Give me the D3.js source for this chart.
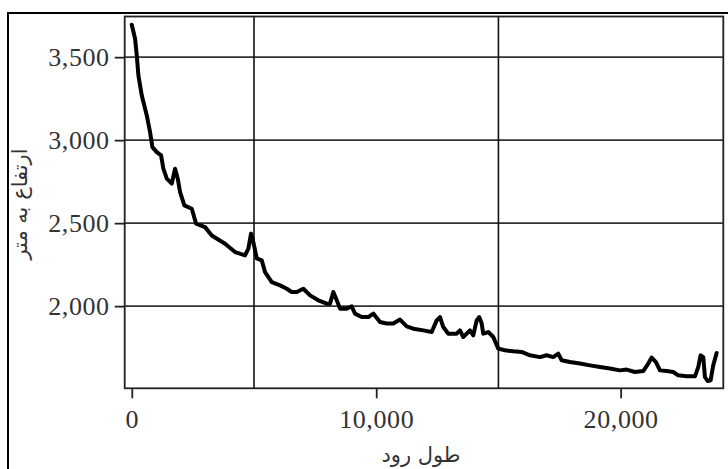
<!DOCTYPE html>
<html>
<head>
<meta charset="utf-8">
<script src="https://cdn.jsdelivr.net/npm/d3@7"></script>
<style>
  html, body { margin: 0; padding: 0; background: #fff; }
  svg { display: block; }
</style>
</head>
<body>
<svg id="chart" width="728" height="469"></svg>
<script>
// River length (m) and elevation (m)
const distance = [0,135,204,270,409,613,748,843,1023,1198,1292,1432,1636,1771,1881,1975,2151,2454,2630,2998,3272,3816,4225,4634,4769,4879,4973,5113,5317,5452,5726,6066,6340,6544,6749,7019,7293,7632,7976,8110,8245,8385,8520,8794,8998,9133,9407,9677,9881,10155,10430,10699,10973,11248,11517,11926,12270,12474,12609,12744,12949,13292,13427,13562,13836,13971,14110,14217,14315,14380,14585,14789,14994,15268,15607,15951,16291,16700,16974,17243,17448,17587,17927,18336,18745,19154,19563,19972,20246,20586,20925,21130,21269,21445,21609,21883,22153,22357,22700,23040,23175,23273,23380,23449,23558,23681,23788,23927];
const elevation = [3695,3611,3510,3390,3269,3149,3048,2958,2928,2908,2828,2768,2738,2828,2768,2687,2607,2587,2497,2476,2426,2376,2326,2306,2346,2437,2386,2288,2276,2205,2145,2125,2105,2085,2085,2105,2065,2035,2015,2015,2085,2035,1985,1985,1999,1955,1934,1934,1955,1904,1895,1895,1919,1878,1864,1854,1844,1914,1934,1874,1834,1834,1854,1814,1854,1824,1914,1934,1895,1834,1844,1814,1744,1734,1728,1724,1704,1693,1704,1693,1714,1674,1663,1654,1643,1633,1624,1613,1618,1603,1609,1654,1690,1663,1613,1609,1603,1583,1577,1577,1633,1704,1693,1573,1549,1553,1643,1718];
const xTicks = [0, 10000, 20000];
const xGrid = [5000, 15000];
const yTicks = [2000, 2500, 3000, 3500];
const xTitle = "طول رود";
const yTitle = "ارتفاع به متر";

const svg = d3.select("#chart");
const L = 124.7, R = 723.3, T = 16.5, B = 388.3;

const x = d3.scaleLinear().domain([-290, 24200]).range([L, R]);
const y = d3.scaleLinear().domain([1505, 3745]).range([B, T]);

svg.append("rect").attr("width", 728).attr("height", 469).attr("fill", "#fff");

// outer frame
svg.append("rect")
  .attr("x", 8).attr("y", 13).attr("width", 760).attr("height", 500)
  .attr("fill", "none").attr("stroke", "#000").attr("stroke-width", 2);

// grid
svg.append("g").selectAll("line").data(yTicks).join("line")
  .attr("x1", L).attr("x2", R)
  .attr("y1", d => y(d)).attr("y2", d => y(d))
  .attr("stroke", "#333").attr("stroke-width", 1.8);
svg.append("g").selectAll("line").data(xGrid).join("line")
  .attr("y1", T).attr("y2", B)
  .attr("x1", d => x(d)).attr("x2", d => x(d))
  .attr("stroke", "#111").attr("stroke-width", 1.6);

// plot border
svg.append("rect")
  .attr("x", L).attr("y", T).attr("width", R - L).attr("height", B - T)
  .attr("fill", "none").attr("stroke", "#222").attr("stroke-width", 1.8);

const fontTicks = "'Liberation Serif', 'Times New Roman', serif";

// axes
const yAxis = svg.append("g").attr("transform", `translate(${L},0)`)
  .call(d3.axisLeft(y).tickValues(yTicks).tickSize(10).tickPadding(5).tickFormat(d3.format(",")));
const xAxis = svg.append("g").attr("transform", `translate(0,${B})`)
  .call(d3.axisBottom(x).tickValues(xTicks).tickSize(10).tickPadding(11).tickFormat(d3.format(",")));
[xAxis, yAxis].forEach(a => {
  a.select(".domain").remove();
  a.selectAll(".tick line").attr("stroke", "#222").attr("stroke-width", 1.8);
  a.selectAll(".tick text").attr("font-family", fontTicks).attr("font-size", 26).attr("fill", "#333")
    .attr("letter-spacing", 0.6);
});

// line
const line = d3.line().x((d, i) => x(distance[i])).y((d, i) => y(elevation[i]));
svg.append("path")
  .attr("d", line(distance))
  .attr("fill", "none").attr("stroke", "#000").attr("stroke-width", 4)
  .attr("stroke-linejoin", "round").attr("stroke-linecap", "round");

// titles
svg.append("text")
  .attr("x", 421).attr("y", 462)
  .attr("text-anchor", "middle")
  .attr("direction", "rtl")
  .attr("font-family", "'DejaVu Sans', sans-serif").attr("font-size", 21).attr("fill", "#333")
  .text(xTitle);
svg.append("text")
  .attr("transform", "translate(27,204) rotate(-90)")
  .attr("text-anchor", "middle")
  .attr("direction", "rtl")
  .attr("font-family", "'DejaVu Sans', sans-serif").attr("font-size", 21).attr("fill", "#333")
  .text(yTitle);
</script>
</body>
</html>
